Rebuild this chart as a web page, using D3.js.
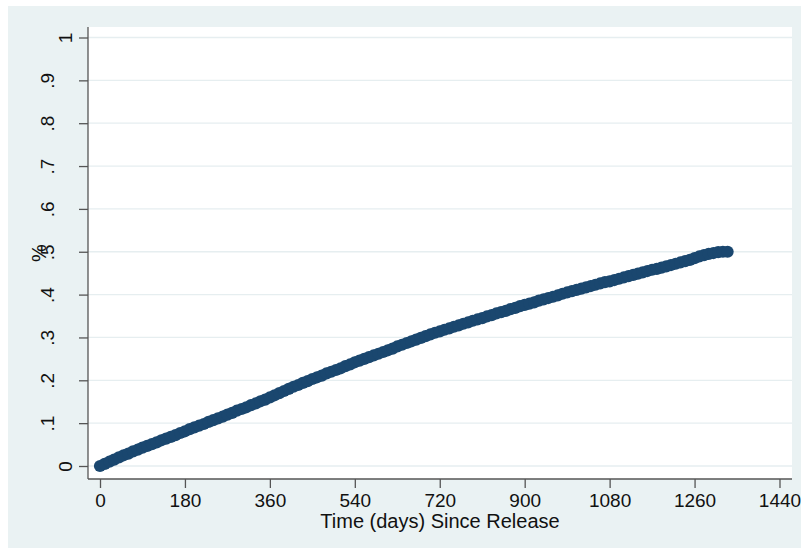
<!DOCTYPE html>
<html>
<head>
<meta charset="utf-8">
<script src="https://cdn.jsdelivr.net/npm/d3@7"></script>
<style>
  html, body { margin: 0; padding: 0; background: #ffffff; }
  svg { display: block; }
  text { font-family: "Liberation Sans", Arial, sans-serif; fill: #111; }
</style>
</head>
<body>
<svg id="chart" width="801" height="548"></svg>
<script>
// ---- data ----
const days = [
  0,10,20,30,40,50,60,70,80,90,100,110,120,130,140,150,160,170,180,190,
  200,210,220,230,240,250,260,270,280,290,300,310,320,330,340,350,360,370,380,390,
  400,410,420,430,440,450,460,470,480,490,500,510,520,530,540,550,560,570,580,590,
  600,610,620,630,640,650,660,670,680,690,700,710,720,730,740,750,760,770,780,790,
  800,810,820,830,840,850,860,870,880,890,900,910,920,930,940,950,960,970,980,990,
  1000,1010,1020,1030,1040,1050,1060,1070,1080,1090,1100,1110,1120,1130,1140,1150,1160,1170,1180,1190,
  1200,1210,1220,1230,1240,1250,1260,1270,1280,1290,1300,1310,1320,1330
];
const share = [
  0.000,0.005,0.010,0.015,0.020,0.025,0.029,0.034,0.038,0.043,0.047,0.051,0.055,0.060,0.064,0.068,0.072,0.077,0.081,0.086,
  0.090,0.094,0.098,0.103,0.107,0.111,0.115,0.120,0.124,0.129,0.133,0.137,0.142,0.146,0.151,0.155,0.160,0.165,0.170,0.175,
  0.180,0.185,0.189,0.194,0.198,0.203,0.207,0.211,0.216,0.220,0.224,0.228,0.233,0.237,0.242,0.246,0.250,0.254,0.258,0.262,
  0.266,0.270,0.274,0.279,0.283,0.287,0.291,0.295,0.299,0.303,0.307,0.311,0.314,0.318,0.321,0.325,0.328,0.332,0.335,0.339,
  0.342,0.345,0.349,0.352,0.356,0.359,0.362,0.366,0.369,0.373,0.376,0.379,0.382,0.386,0.389,0.392,0.395,0.398,0.402,0.405,
  0.408,0.411,0.414,0.417,0.420,0.423,0.426,0.429,0.431,0.434,0.437,0.440,0.443,0.446,0.449,0.452,0.455,0.458,0.460,0.463,
  0.466,0.469,0.472,0.475,0.478,0.481,0.485,0.489,0.492,0.495,0.497,0.499,0.500,0.500
];
const xTicks = [0,180,360,540,720,900,1080,1260,1440];
const yTicks = [0,0.1,0.2,0.3,0.4,0.5,0.6,0.7,0.8,0.9,1];
const yTickLabels = ["0",".1",".2",".3",".4",".5",".6",".7",".8",".9","1"];
const xTitle = "Time (days) Since Release";
const yTitle = "%";

// ---- layout ----
const svg = d3.select("#chart");
const W = 801, H = 548;
const plot = { left: 88, right: 792, top: 27, bottom: 479 };

svg.append("rect").attr("x", 8).attr("y", 6).attr("width", W - 8).attr("height", H - 6)
  .attr("fill", "#EAF2F3");
svg.append("rect").attr("x", plot.left).attr("y", plot.top)
  .attr("width", plot.right - plot.left).attr("height", plot.bottom - plot.top)
  .attr("fill", "#ffffff");

const x = d3.scaleLinear().domain([0, 1440]).range([100, 779.5]);
const y = d3.scaleLinear().domain([0, 1]).range([466, 37.5]);

// gridlines
svg.append("g").selectAll("line").data(yTicks).join("line")
  .attr("x1", plot.left).attr("x2", plot.right)
  .attr("y1", d => y(d)).attr("y2", d => y(d))
  .attr("stroke", "#E6EEF0").attr("stroke-width", 1.3);

// points
const pts = days.map((d, i) => ({ d, v: share[i] }));
svg.append("g").selectAll("circle").data(pts).join("circle")
  .attr("cx", p => x(p.d)).attr("cy", p => y(p.v)).attr("r", 6.1)
  .attr("fill", "#1A476F");

// y axis
const yAxis = d3.axisLeft(y).tickValues(yTicks).tickSize(9).tickPadding(0)
  .tickFormat((d, i) => yTickLabels[i]);
const gy = svg.append("g").attr("transform", `translate(${plot.left},0)`).call(yAxis);
gy.select(".domain").attr("d", `M0,${plot.top}V${plot.bottom}`).attr("stroke", "#555").attr("stroke-width", 1.3);
gy.selectAll(".tick line").attr("stroke", "#555").attr("stroke-width", 1.3);
gy.selectAll(".tick text")
  .attr("x", null).attr("dy", null)
  .attr("text-anchor", "middle")
  .style("font-size", "19px")
  .style("font-family", "'Liberation Sans', Arial, sans-serif")
  .attr("fill", "#111")
  .attr("transform", (d, i) => `translate(${yTickLabels[i].startsWith(".") ? -34 : -16},0) rotate(-90)`);

// x axis
const xAxis = d3.axisBottom(x).tickValues(xTicks).tickSize(9).tickPadding(0)
  .tickFormat(d3.format("d"));
const gx = svg.append("g").attr("transform", `translate(0,${plot.bottom})`).call(xAxis);
gx.select(".domain").attr("d", `M${plot.left},0H${plot.right}`).attr("stroke", "#555").attr("stroke-width", 1.3);
gx.selectAll(".tick line").attr("stroke", "#555").attr("stroke-width", 1.3);
gx.selectAll(".tick text")
  .attr("y", 28).attr("dy", null)
  .style("font-size", "19px")
  .style("font-family", "'Liberation Sans', Arial, sans-serif")
  .attr("fill", "#111");

// titles
svg.append("text").attr("x", (plot.left + plot.right) / 2).attr("y", 528)
  .attr("text-anchor", "middle").style("font-size", "20px").text(xTitle);
svg.append("text")
  .attr("transform", `translate(46,${(plot.top + plot.bottom) / 2}) rotate(-90)`)
  .attr("text-anchor", "middle").style("font-size", "20px").text(yTitle);
</script>
</body>
</html>
